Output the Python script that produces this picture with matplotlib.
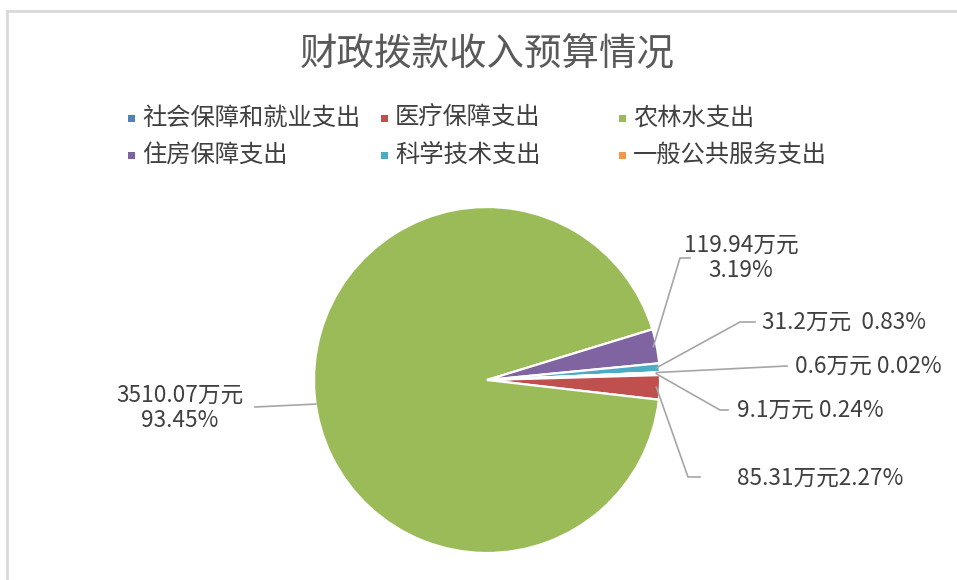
import matplotlib
matplotlib.use("Agg")
import matplotlib.pyplot as plt
import numpy as np
from matplotlib.lines import Line2D
from matplotlib.patches import Rectangle

plt.rcParams['font.family'] = ['Noto Sans CJK SC', 'DejaVu Sans']

# data (万元)
categories = ['社会保障和就业支出', '医疗保障支出', '农林水支出',
              '住房保障支出', '科学技术支出', '一般公共服务支出']
values = [9.1, 85.31, 3510.07, 119.94, 31.2, 0.6]
percents = ['0.24%', '2.27%', '93.45%', '3.19%', '0.83%', '0.02%']
colors = ['#4F81BD', '#C0504D', '#9BBB59', '#8064A2', '#4BACC6', '#F79646']

W, H = 957, 580
fig = plt.figure(figsize=(W / 100, H / 100), dpi=100)
fig.patch.set_facecolor('white')

def fx(x):
    return x / W

def fy(y):
    # pixel from top -> figure fraction
    return 1 - y / H

# chart border (light grey, top and left visible)
fig.add_artist(Line2D([fx(7), 1], [fy(11), fy(11)], color='#D9D9D9', lw=2))
fig.add_artist(Line2D([fx(7), fx(7)], [fy(11), 0], color='#D9D9D9', lw=2))

# title
fig.text(fx(487), fy(55), '财政拨款收入预算情况', ha='center', va='center',
         fontsize=27, color='#595959')

# legend, laid out like Excel in fixed columns
leg_x = [132, 385, 623]
leg_y = [118, 155]
for i, (cat, col) in enumerate(zip(categories, colors)):
    r, c = divmod(i, 3)
    x, y = leg_x[c], leg_y[r]
    fig.add_artist(Rectangle((fx(x - 4), fy(y + 4)), fx(7), 7 / H,
                             facecolor=col, edgecolor='none'))
    fig.text(fx(x + 10), fy(y), cat, ha='left', va='center',
             fontsize=17.5, color='#404040')

# pie
cx, cy, R = 487, 380, 173
ax = fig.add_axes([fx(cx - R), fy(cy + R), 2 * R / W, 2 * R / H])
wedges, _ = ax.pie(values, colors=colors, startangle=2.5, counterclock=False,
                   radius=1, wedgeprops=dict(edgecolor='white', linewidth=1.6))
ax.set_xlim(-1, 1)
ax.set_ylim(-1, 1)
ax.set_aspect('auto')
ax.axis('off')

# data labels with leader lines: (elbow, line end, text pos, ha, multi-line)
label_layout = {
    0: ((720, 410), (728, 410), (737, 410), 'left', False),
    1: ((688, 477), (700, 477), (737, 478), 'left', False),
    2: ((255, 407), (255, 407), (180, 408), 'center', True),
    3: ((680, 258), (690, 258), (741, 258), 'center', True),
    4: ((740, 322), (755, 322), (762, 322), 'left', False),
    5: ((787, 366), (787, 366), (795, 366), 'left', False),
}

fig.canvas.draw()
for i, w in enumerate(wedges):
    ang = np.deg2rad((w.theta1 + w.theta2) / 2)
    r0 = 0.98 if i != 2 else 1.0
    if i == 2:
        ang = np.deg2rad(188)
    px, py = ax.transData.transform((r0 * np.cos(ang), r0 * np.sin(ang)))
    elbow, end, tpos, ha, multi = label_layout[i]
    xs = [px / W, fx(elbow[0]), fx(end[0])]
    ys = [py / H, fy(elbow[1]), fy(end[1])]
    fig.add_artist(Line2D(xs, ys, color='#A6A6A6', lw=1.2))
    v = f'{values[i]:g}万元'
    if multi:
        txt = f'{v}\n{percents[i]}'
    elif i == 1:
        txt = f'{v}{percents[i]}'
    elif i == 4:
        txt = f'{v}  {percents[i]}'
    else:
        txt = f'{v} {percents[i]}'
    fig.text(fx(tpos[0]), fy(tpos[1]), txt, ha=ha, va='center',
             multialignment='center', fontsize=16.3, color='#404040',
             linespacing=1.1)

fig.savefig('out.png', dpi=100, facecolor='white')
